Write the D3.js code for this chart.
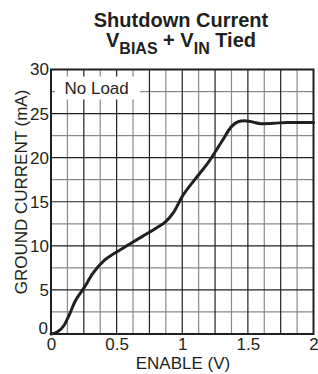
<!DOCTYPE html>
<html>
<head>
<meta charset="utf-8">
<script src="https://cdn.jsdelivr.net/npm/d3@7"></script>
<style>
  html, body { margin: 0; padding: 0; background: #fff; }
  svg { display: block; font-family: "Liberation Sans", Arial, Helvetica, sans-serif; }
</style>
</head>
<body>
<svg id="chart" width="318" height="374"></svg>
<script>
// Curve: ENABLE (V) vs GROUND CURRENT (mA)
const enableV = [0, 0.05, 0.1, 0.14, 0.18, 0.25, 0.32, 0.41, 0.5, 0.6, 0.7, 0.8, 0.87, 0.93, 1.0,
  1.1, 1.2, 1.3, 1.38, 1.43, 1.47, 1.52, 1.6, 1.7, 1.8, 1.9, 2.0];
const groundI = [0, 0.25, 1.0, 2.2, 3.6, 5.2, 6.9, 8.4, 9.3, 10.2, 11.1, 12.0, 12.7, 13.7, 15.6,
  17.6, 19.5, 21.8, 23.6, 24.1, 24.2, 24.1, 23.85, 23.9, 24.0, 24.0, 24.0];

const xTickValues = [0, 0.5, 1, 1.5, 2];
const xTickLabels = ['0', '0.5', '1', '1.5', '2'];
const yTickValues = [0, 5, 10, 15, 20, 25, 30];
const yTickLabels = ['0', '5', '10', '15', '20', '25', '30'];

const W = 318, H = 374;
const margin = { top: 69.5, right: 4.5, bottom: 40, left: 51 };
const width  = W - margin.left - margin.right;
const height = H - margin.top  - margin.bottom;

const xScale = d3.scaleLinear().domain([0, 2]).range([0, width]);
const yScale = d3.scaleLinear().domain([0, 30]).range([height, 0]);

const svg = d3.select('#chart');
const ink = '#231f20';

// Title
svg.append('text')
  .attr('x', 181).attr('y', 27)
  .attr('text-anchor', 'middle').attr('fill', ink)
  .attr('font-weight', 'bold').attr('font-size', 20)
  .text('Shutdown Current');

const t2 = svg.append('text')
  .attr('x', 181).attr('y', 47)
  .attr('text-anchor', 'middle').attr('fill', ink)
  .attr('font-weight', 'bold').attr('font-size', 20);
t2.append('tspan').text('V');
t2.append('tspan').attr('font-size', 16).attr('dy', 6.5).text('BIAS');
t2.append('tspan').attr('dy', -6.5).text(' + V');
t2.append('tspan').attr('font-size', 16).attr('dy', 6.5).text('IN');
t2.append('tspan').attr('dy', -6.5).text(' Tied');

const g = svg.append('g').attr('transform', `translate(${margin.left},${margin.top})`);

// Grid: minor (gray) then major (black)
const xMinor = d3.range(1, 16, 2).map(i => i * 0.125);
const xMajor = d3.range(2, 16, 2).map(i => i * 0.125);
const yMinor = d3.range(1, 12, 2).map(i => i * 2.5);
const yMajor = d3.range(2, 12, 2).map(i => i * 2.5);

g.append('g').selectAll('line').data(xMinor).join('line')
  .attr('x1', d => xScale(d)).attr('x2', d => xScale(d))
  .attr('y1', 0).attr('y2', height)
  .attr('stroke', '#8a8a8a').attr('stroke-width', 1.2);
g.append('g').selectAll('line').data(yMinor).join('line')
  .attr('x1', 0).attr('x2', width)
  .attr('y1', d => yScale(d)).attr('y2', d => yScale(d))
  .attr('stroke', '#8a8a8a').attr('stroke-width', 1.2);
g.append('g').selectAll('line').data(xMajor).join('line')
  .attr('x1', d => xScale(d)).attr('x2', d => xScale(d))
  .attr('y1', 0).attr('y2', height)
  .attr('stroke', ink).attr('stroke-width', 1.2);
g.append('g').selectAll('line').data(yMajor).join('line')
  .attr('x1', 0).attr('x2', width)
  .attr('y1', d => yScale(d)).attr('y2', d => yScale(d))
  .attr('stroke', ink).attr('stroke-width', 1.2);

// "No Load" label box knocks out the grid
g.append('rect')
  .attr('x', 4).attr('y', 7).attr('width', 85).attr('height', 23)
  .attr('fill', '#fff');
g.append('text')
  .attr('x', 13.5).attr('y', 24)
  .attr('fill', ink).attr('font-size', 17)
  .text('No Load');

// Frame
g.append('rect')
  .attr('width', width).attr('height', height)
  .attr('fill', 'none').attr('stroke', ink).attr('stroke-width', 2);

// Axes (labels only)
g.append('g').attr('transform', `translate(0,${height})`)
  .call(d3.axisBottom(xScale).tickValues(xTickValues)
    .tickFormat((d, i) => xTickLabels[i]).tickSize(0).tickPadding(4))
  .call(ax => ax.select('.domain').remove())
  .call(ax => ax.selectAll('text').attr('fill', ink).attr('font-size', 17)
    .attr('font-family', null));

g.append('g')
  .call(d3.axisLeft(yScale).tickValues(yTickValues)
    .tickFormat((d, i) => yTickLabels[i]).tickSize(0).tickPadding(2))
  .call(ax => ax.select('.domain').remove())
  .call(ax => ax.selectAll('text').attr('fill', ink).attr('font-size', 17)
    .attr('font-family', null))
  // the y "0" sits a little above the corner, clear of the x "0"
  .call(ax => ax.selectAll('.tick').filter(d => d === 0).select('text')
    .attr('dy', '-0.05em').attr('x', -3));

// Axis titles
svg.append('text')
  .attr('x', 183).attr('y', 369)
  .attr('text-anchor', 'middle').attr('fill', ink).attr('font-size', 17)
  .text('ENABLE (V)');

svg.append('text')
  .attr('transform', 'translate(26.5,192) rotate(-90)')
  .attr('text-anchor', 'middle').attr('fill', ink).attr('font-size', 17)
  .text('GROUND CURRENT (mA)');

// Curve
const pts = enableV.map((v, i) => [v, groundI[i]]);
g.append('path')
  .datum(pts)
  .attr('fill', 'none').attr('stroke', ink).attr('stroke-width', 3)
  .attr('stroke-linejoin', 'round').attr('stroke-linecap', 'round')
  .attr('d', d3.line().x(d => xScale(d[0])).y(d => yScale(d[1])).curve(d3.curveMonotoneX));
</script>
</body>
</html>
